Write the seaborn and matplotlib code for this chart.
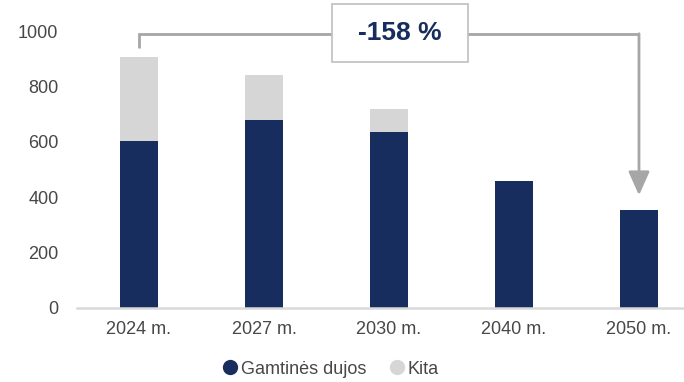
import matplotlib
matplotlib.use("Agg")
import matplotlib.pyplot as plt
from matplotlib.patches import Rectangle
from matplotlib.lines import Line2D
import seaborn as sns
import pandas as pd

# Data
years = ["2024 m.", "2027 m.", "2030 m.", "2040 m.", "2050 m."]
gas = [603, 680, 637, 460, 352]
other = [302, 160, 83, 0, 0]
change_label = "-158 %"
series_names = ["Gamtinės dujos", "Kita"]
yticks = [0, 200, 400, 600, 800, 1000]

NAVY = "#172d5e"
GREY = "#d6d6d6"
LINE = "#a6a6a6"
TXT = "#474747"

sns.set_theme(style="white")
plt.rcParams["font.family"] = ["Liberation Sans", "DejaVu Sans"]

df = pd.DataFrame({"year": years, "gas": gas, "other": other})
df["total"] = df["gas"] + df["other"]

fig = plt.figure(figsize=(6.84, 3.82), dpi=100)
ax = fig.add_axes([76.5 / 684, 74 / 382, (684 - 76.5) / 684, 277 / 382])

sns.barplot(data=df, x="year", y="total", color=GREY, width=0.3,
            saturation=1, linewidth=0, edgecolor="none", ax=ax)
sns.barplot(data=df, x="year", y="gas", color=NAVY, width=0.3,
            saturation=1, linewidth=0, edgecolor="none", ax=ax)

ax.set_xlim(-0.5, 4.36)
ax.set_ylim(0, 1000)
ax.set_yticks(yticks)
ax.set_xlabel("")
ax.set_ylabel("")
for s in ["top", "right", "left"]:
    ax.spines[s].set_visible(False)
ax.spines["bottom"].set_color("#d9d9d9")
ax.spines["bottom"].set_linewidth(1.8)
ax.tick_params(axis="y", length=0, pad=13, labelsize=13, labelcolor=TXT)
ax.tick_params(axis="x", length=0, pad=9, labelsize=13, labelcolor=TXT)

# Bracket from first to last bar
top = 990
ax.plot([0, 0, 4], [937, top, top], color=LINE, lw=2, clip_on=False,
        solid_capstyle="butt", solid_joinstyle="miter")
ax.annotate("", xy=(4, 407), xytext=(4, top),
            arrowprops=dict(arrowstyle="-|>,head_width=0.38,head_length=0.85",
                            color=LINE, lw=2, shrinkA=0, shrinkB=0,
                            mutation_scale=17),
            annotation_clip=False)

# Change label box
fig.patches.append(Rectangle((332 / 684, 1 - 62 / 382), 136 / 684, 58 / 382,
                             transform=fig.transFigure, facecolor="white",
                             edgecolor="#bfbfbf", lw=1.2, zorder=5))
fig.text(400 / 684, 1 - 33 / 382, change_label, ha="center", va="center",
         fontsize=19, fontweight="bold", color=NAVY, zorder=6)

# Legend
handles = [Line2D([], [], marker="o", ls="", markersize=11, color=c,
                  markeredgewidth=0) for c in (NAVY, GREY)]
fig.legend(handles, series_names, loc="center",
           bbox_to_anchor=(330 / 684, 1 - 369 / 382), ncol=2, frameon=False,
           fontsize=13, labelcolor=TXT, handletextpad=0.1, columnspacing=1.2,
           handlelength=1.0)

fig.savefig("out.png", dpi=100)
